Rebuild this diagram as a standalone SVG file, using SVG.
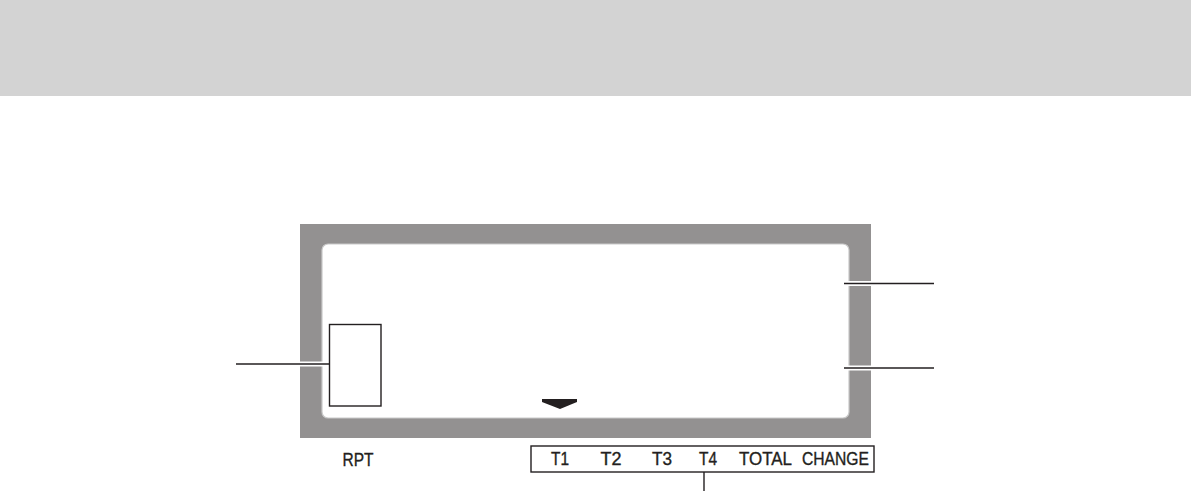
<svg xmlns="http://www.w3.org/2000/svg" width="1191" height="498" viewBox="0 0 1191 498">
  <style>
    .lbl { font-family: "Liberation Sans", Arial, sans-serif; font-size: 17.5px; fill: #231f20; stroke: #231f20; stroke-width: 0.35; text-anchor: middle; }
    .lead { stroke: #231f20; stroke-width: 1.4; fill: none; }
    .halo { stroke: #ffffff; stroke-width: 5; fill: none; }
    .box { fill: none; stroke: #231f20; stroke-width: 1.4; }
  </style>
  <rect x="0" y="0" width="1191" height="498" fill="#ffffff"/>
  <g id="header">
    <rect x="0" y="0" width="1191" height="96" fill="#d3d3d3"/>
  </g>
  <g id="display">
    <rect x="300" y="224" width="571" height="214" fill="#939191"/>
    <rect x="322" y="244" width="527" height="174" rx="6" ry="6" fill="#ffffff" stroke="#c9c9c9" stroke-width="1.2"/>
  </g>
  <g id="digit-box">
    <rect class="box" x="329.5" y="324.5" width="51.5" height="81.5" fill="#ffffff"/>
  </g>
  <g id="pointer">
    <polygon points="542,399 577,399 577,402 560,409 542,402" fill="#231f20"/>
  </g>
  <g id="rpt-label">
    <text class="lbl" x="358" y="466" textLength="31" lengthAdjust="spacingAndGlyphs">RPT</text>
  </g>
  <g id="mode-labels">
    <rect class="box" x="531" y="446" width="343" height="26"/>
    <text class="lbl" x="560" y="465" textLength="18" lengthAdjust="spacingAndGlyphs">T1</text>
    <text class="lbl" x="611" y="465" textLength="21" lengthAdjust="spacingAndGlyphs">T2</text>
    <text class="lbl" x="662" y="465" textLength="20" lengthAdjust="spacingAndGlyphs">T3</text>
    <text class="lbl" x="708" y="465" textLength="18" lengthAdjust="spacingAndGlyphs">T4</text>
    <text class="lbl" x="765.5" y="465" textLength="53" lengthAdjust="spacingAndGlyphs">TOTAL</text>
    <text class="lbl" x="835.5" y="465" textLength="67" lengthAdjust="spacingAndGlyphs">CHANGE</text>
  </g>
  <g id="connectors">
    <line class="halo" x1="298" y1="364" x2="324" y2="364"/>
    <line class="lead" x1="236" y1="364" x2="329.5" y2="364"/>
    <line class="halo" x1="846" y1="283.5" x2="873" y2="283.5"/>
    <line class="lead" x1="844" y1="283.5" x2="934" y2="283.5"/>
    <line class="halo" x1="846" y1="368" x2="873" y2="368"/>
    <line class="lead" x1="844" y1="368" x2="934" y2="368"/>
    <line class="lead" x1="704" y1="472" x2="704" y2="491"/>
  </g>
</svg>
